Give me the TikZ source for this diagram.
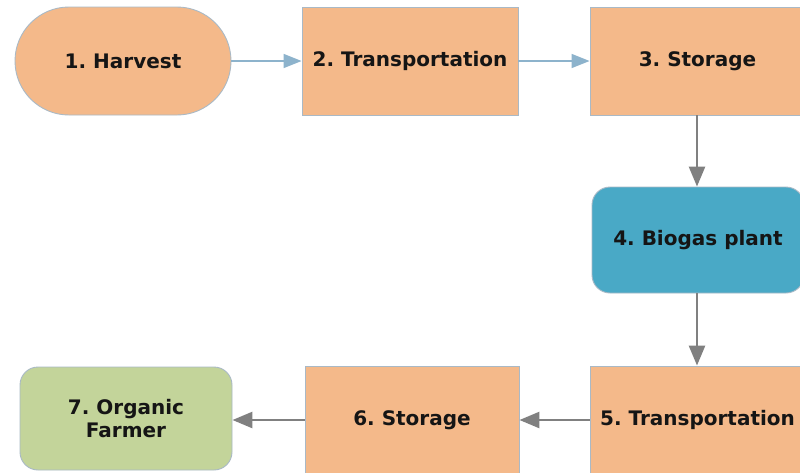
\documentclass[tikz,border=0pt]{standalone}
\usepackage{fontspec}
\setmainfont{DejaVu Sans}
\usetikzlibrary{arrows.meta,shapes.misc}
\definecolor{orangefill}{HTML}{F4B98A}
\definecolor{boxline}{HTML}{A9B9C6}
\definecolor{bluefill}{HTML}{49A9C6}
\definecolor{greenfill}{HTML}{C3D49A}
\definecolor{bluearrow}{HTML}{8DB3CC}
\definecolor{greyarrow}{HTML}{808080}
\definecolor{txt}{HTML}{151515}
\frenchspacing
\tikzset{
  stepbase/.style={draw=boxline, line width=0.9pt, text=txt, font=\fontsize{20}{23.5}\selectfont\bfseries, align=center, inner sep=0pt},
  orangebox/.style={stepbase, fill=orangefill, rectangle},
  stadium/.style={stepbase, fill=orangefill, rounded rectangle},
  bluebox/.style={stepbase, fill=bluefill, rounded corners=18pt},
  greenbox/.style={stepbase, fill=greenfill, rounded corners=18pt},
  bluearr/.style={draw=bluearrow, line width=1.6pt, -{Triangle[length=18pt,width=14pt]}},
  greyarr/.style={draw=greyarrow, line width=2.6pt, -{Triangle[length=20pt,width=16pt]}},
}
\begin{document}
\begin{tikzpicture}[x=1pt,y=-1pt]
\useasboundingbox (0,0) rectangle (800,472);
\fill[white] (0,0) rectangle (800,472);
\begin{scope}
\clip (0,0) rectangle (800,472);
\node[stadium, minimum width=216pt, minimum height=108pt] (n1) at (123,61) {1. Harvest};
\node[orangebox, minimum width=216pt, minimum height=108pt] (n2) at (410,61) {2. Transportation};
\node[orangebox, minimum width=215pt, minimum height=108pt] (n3) at (697.5,61) {3. Storage};
\node[bluebox, minimum width=212pt, minimum height=106pt] (n4) at (698,240) {4. Biogas plant};
\node[orangebox, minimum width=215pt, minimum height=108pt] (n5) at (697.5,420) {5. Transportation};
\node[orangebox, minimum width=214pt, minimum height=108pt] (n6) at (412,420) {6. Storage};
\node[greenbox, minimum width=212pt, minimum height=103pt] (n7) at (126,418.5) {7. Organic\\Farmer};
\end{scope}
\draw[bluearr] (n1.east) -- (n2.west);
\draw[bluearr] (n2.east) -- (n3.west);
\draw[greyarr] (n3.south -| 697,0) -- (n4.north -| 697,0);
\draw[greyarr] (n4.south -| 697,0) -- (n5.north -| 697,0);
\draw[greyarr] (n5.west) -- (n6.east);
\draw[greyarr] (n6.west) -- (n7.east |- n6.west);
\end{tikzpicture}
\end{document}
